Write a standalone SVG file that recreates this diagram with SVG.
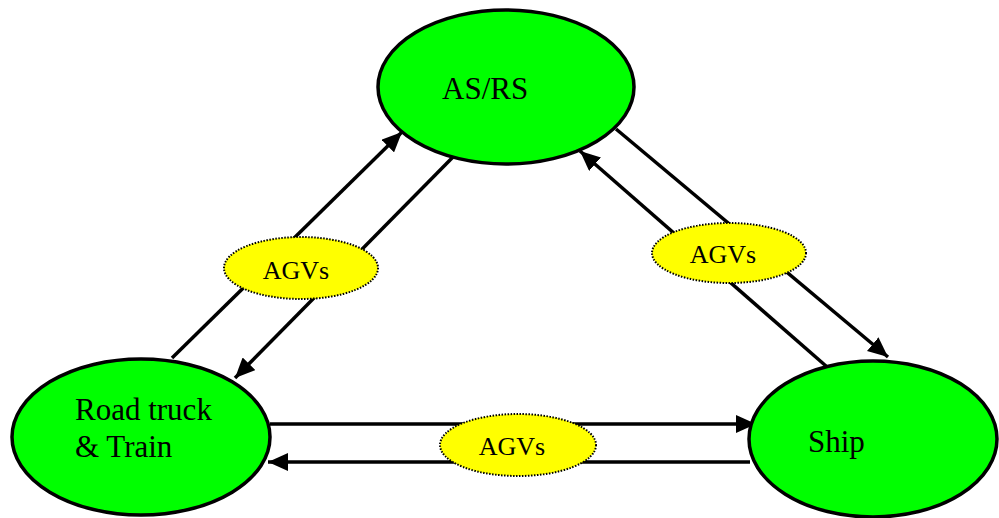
<svg xmlns="http://www.w3.org/2000/svg" width="999" height="518" viewBox="0 0 999 518">
<style>
.node{fill:#00ff00;stroke:#000;stroke-width:3.5}
.agv{fill:#ffff00;stroke:#000;stroke-width:2;stroke-dasharray:1.5 1.5}
.lbl{font-family:"Liberation Serif",serif;fill:#000}
.big{font-size:31px}
.small{font-size:26px}
.conn line{stroke:#000;stroke-width:3.5;marker-end:url(#ah)}
</style>
<defs>
<marker id="ah" markerUnits="userSpaceOnUse" markerWidth="22" markerHeight="18" refX="20" refY="9" orient="auto">
<path d="M0,0 L20,9 L0,18 Z" fill="#000"/>
</marker>
</defs>
<rect width="999" height="518" fill="#fff"/>
<g id="connectors" class="conn">
<line x1="172" y1="358" x2="402" y2="132"/>
<line x1="453" y1="157" x2="235" y2="378"/>
<line x1="616" y1="129" x2="888" y2="357"/>
<line x1="826" y1="366" x2="580" y2="151"/>
<line x1="270" y1="424" x2="756" y2="424"/>
<line x1="750" y1="462" x2="268" y2="462"/>
</g>
<g id="asrs">
<ellipse class="node" cx="506" cy="87" rx="128" ry="77"/>
<text class="lbl big" x="442" y="99">AS/RS</text>
</g>
<g id="road">
<ellipse class="node" cx="141" cy="437" rx="129" ry="78"/>
<text class="lbl big" x="75" y="420">Road truck</text>
<text class="lbl big" x="75" y="457">&amp; Train</text>
</g>
<g id="ship">
<ellipse class="node" cx="873" cy="439" rx="124" ry="78"/>
<text class="lbl big" x="808" y="452">Ship</text>
</g>
<g id="agv-left">
<ellipse class="agv" cx="301" cy="268" rx="77" ry="31"/>
<text class="lbl small" x="296" y="279" text-anchor="middle">AGVs</text>
</g>
<g id="agv-right">
<ellipse class="agv" cx="729" cy="253" rx="77" ry="30"/>
<text class="lbl small" x="723" y="263" text-anchor="middle">AGVs</text>
</g>
<g id="agv-bottom">
<ellipse class="agv" cx="518" cy="445" rx="78" ry="31"/>
<text class="lbl small" x="512" y="455" text-anchor="middle">AGVs</text>
</g>
</svg>
